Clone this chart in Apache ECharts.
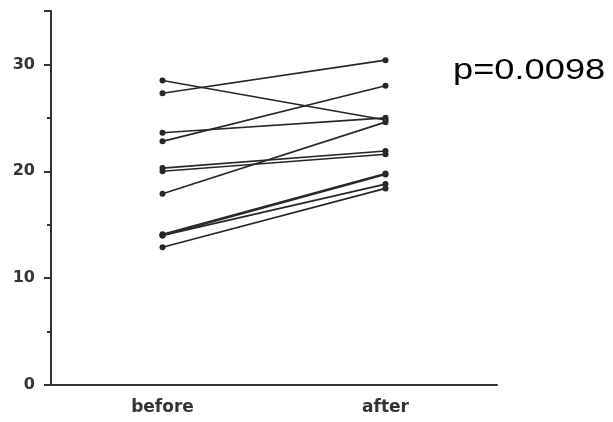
<!DOCTYPE html>
<html>
<head>
<meta charset="utf-8">
<script src="https://cdn.jsdelivr.net/npm/echarts@6/dist/echarts.min.js"></script>
<style>
  html, body { margin: 0; padding: 0; background: #fff; }
  #chart { width: 613px; height: 422px; }
</style>
</head>
<body>
<div id="chart"></div>
<script>
// Paired measurements: each subject's value before and after
const categories = ['before', 'after'];
const beforeValues = [28.5, 27.3, 23.6, 22.8, 20.3, 20.0, 17.9, 14.0, 14.1, 14.0, 12.9];
const afterValues  = [24.8, 30.4, 25.0, 28.0, 21.9, 21.6, 24.6, 19.7, 19.8, 18.8, 18.4];
const yTicks = [0, 10, 20, 30];
const pLabel = 'p=0.0098';

const lineColor = '#262626';
const series = beforeValues.map((b, i) => ({
  type: 'line',
  data: [b, afterValues[i]],
  symbol: 'circle',
  symbolSize: 6,
  lineStyle: { color: lineColor, width: 1.6 },
  itemStyle: { color: lineColor },
  emphasis: { disabled: true },
  animation: false
}));

const chart = echarts.init(document.getElementById('chart'), null, { renderer: 'canvas' });
chart.setOption({
  backgroundColor: '#fff',
  animation: false,
  grid: { left: 51, right: 116, top: 11, bottom: 37, containLabel: false },
  xAxis: {
    type: 'category',
    data: categories,
    boundaryGap: true,
    axisLine: { lineStyle: { color: '#333', width: 2 } },
    axisTick: { alignWithLabel: true, length: 5, lineStyle: { color: '#333', width: 2 } },
    axisLabel: {
      color: '#333', fontFamily: 'DejaVu Sans', fontWeight: 'bold', fontSize: 17, margin: 14
    },
    splitLine: { show: false }
  },
  yAxis: {
    type: 'value',
    min: 0, max: 35, interval: 10,
    axisLine: { show: true, lineStyle: { color: '#333', width: 2 } },
    axisTick: { show: true, length: 7, lineStyle: { color: '#333', width: 2 } },
    minorTick: { show: true, splitNumber: 2, length: 4, lineStyle: { color: '#333', width: 2 } },
    axisLabel: {
      color: '#333', fontFamily: 'DejaVu Sans', fontWeight: 'bold', fontSize: 16, margin: 16,
      formatter: v => (yTicks.includes(v) ? String(v) : '')
    },
    splitLine: { show: false }
  },
  graphic: [{
    type: 'text',
    x: 453, y: 85,
    scaleX: 1.25,
    style: {
      text: pLabel,
      fill: '#000',
      font: '29px "Liberation Sans", Arial, sans-serif',
      textAlign: 'left',
      textVerticalAlign: 'bottom'
    }
  }],
  series: series
});
</script>
</body>
</html>
